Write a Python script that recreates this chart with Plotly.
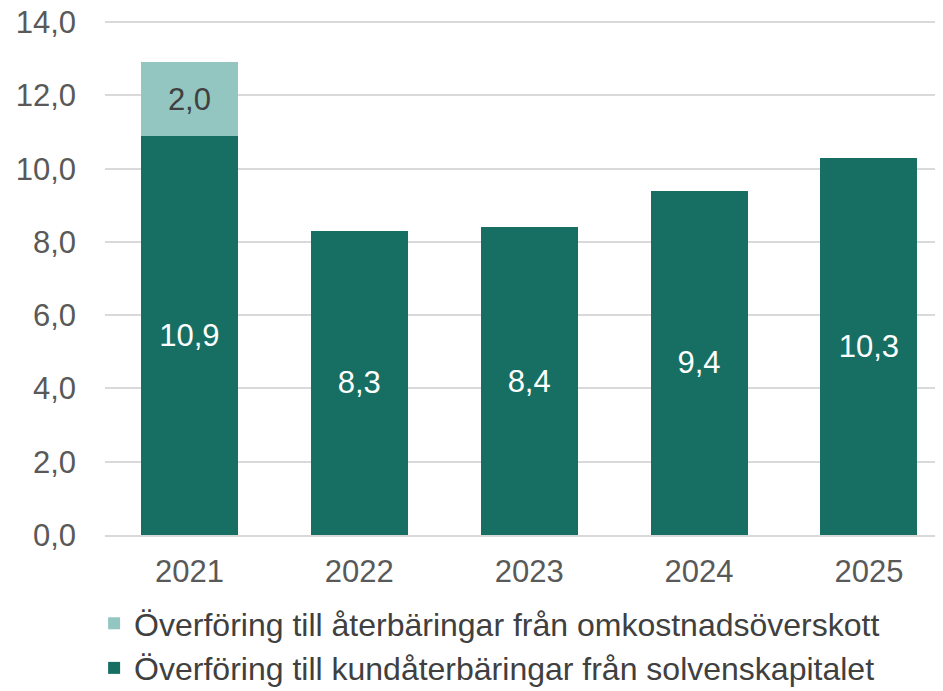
import plotly.graph_objects as go

years = ["2021", "2022", "2023", "2024", "2025"]
solvens = [10.9, 8.3, 8.4, 9.4, 10.3]
omkostnad = [2.0, None, None, None, None]
name_solvens = "Överföring till kundåterbäringar från solvenskapitalet"
name_omk = "Överföring till återbäringar från omkostnadsöverskott"
y_ticks = [0, 2, 4, 6, 8, 10, 12, 14]

DARK = "#176F64"
LIGHT = "#93C6C1"
FONT = "Liberation Sans, Arial, sans-serif"

fig = go.Figure()
fig.add_trace(go.Bar(
    x=years, y=solvens, name=name_solvens, marker_color=DARK, marker_line_width=0,
    width=0.571, texttemplate="%{y:.1f}", textposition="inside",
    insidetextanchor="middle", textangle=0,
    textfont=dict(family=FONT, size=31, color="#FFFFFF"),
))
fig.add_trace(go.Bar(
    x=years, y=omkostnad, name=name_omk, marker_color=LIGHT, marker_line_width=0,
    width=0.571, texttemplate="%{y:.1f}", textposition="inside",
    insidetextanchor="middle", textangle=0,
    textfont=dict(family=FONT, size=31, color="#404040"),
))

fig.update_layout(
    barmode="stack",
    separators=", ",
    width=935, height=683,
    margin=dict(l=97, r=0, t=12, b=156, autoexpand=False),
    paper_bgcolor="white", plot_bgcolor="white",
    font=dict(family=FONT, size=31, color="#595959"),
    showlegend=True,
    legend=dict(
        orientation="v", traceorder="reversed",
        x=-0.013, xanchor="left",
        y=-0.3126, yanchor="bottom",
        font=dict(family=FONT, size=32, color="#404040"),
        tracegroupgap=0,
        bgcolor="rgba(0,0,0,0)",
    ),
    xaxis=dict(
        range=[-0.497, 4.436], showgrid=False, zeroline=False,
        showline=True, linecolor="#D9D9D9", linewidth=2,
        ticks="", ticklabelstandoff=8,
        tickfont=dict(family=FONT, size=31, color="#595959"),
    ),
    yaxis=dict(
        range=[0, 14.06], tickvals=y_ticks, tickformat=".1f",
        showgrid=True, gridcolor="#D9D9D9", gridwidth=2,
        zeroline=False, showline=False, ticks="", ticklabelstandoff=28,
        ticklabeloverflow="allow",
        tickfont=dict(family=FONT, size=31, color="#595959"),
    ),
)

fig.write_html("out.html")
